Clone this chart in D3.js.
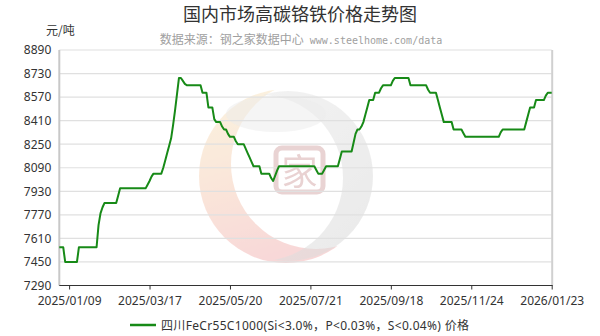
<!DOCTYPE html>
<html><head><meta charset="utf-8">
<script src="https://cdn.jsdelivr.net/npm/d3@7"></script>
<style>body{margin:0;background:#fff}svg{display:block}</style>
</head><body>
<svg id="chart" width="600" height="336"></svg>
<script>
// ---------- data ----------
const chartTitle = "国内市场高碳铬铁价格走势图";
const sourceCn = "数据来源：钢之家数据中心";
const sourceEn = " www.steelhome.com/data";
const unitLabel = "元/吨";
const seriesName = "四川FeCr55C1000(Si<3.0%，P<0.03%，S<0.04%) 价格";
const yTicks = [7290, 7450, 7610, 7770, 7930, 8090, 8250, 8410, 8570, 8730, 8890];
const xTickLabels = ["2025/01/09", "2025/03/17", "2025/05/20", "2025/07/21", "2025/09/18", "2025/11/24", "2026/01/23"];
const xTickIndex = [5, 46, 87, 128, 169, 210, 251];
const prices = [
  7550,7550,7550,7450,7450,7450,7450,7450,7450,7450,
  7550,7550,7550,7550,7550,7550,7550,7550,7550,7550,
  7700,7780,7820,7850,7850,7850,7850,7850,7850,7850,
  7900,7950,7950,7950,7950,7950,7950,7950,7950,7950,
  7950,7950,7950,7950,7950,7975,8000,8030,8050,8050,
  8050,8050,8050,8090,8140,8190,8240,8290,8380,8480,
  8590,8700,8700,8680,8660,8650,8650,8650,8650,8650,
  8650,8650,8650,8600,8600,8600,8500,8500,8500,8420,
  8400,8400,8400,8370,8350,8350,8320,8300,8300,8300,
  8270,8250,8250,8250,8250,8220,8190,8160,8130,8100,
  8100,8100,8100,8050,8050,8050,8050,8050,8020,8000,
  8035,8070,8100,8100,8100,8100,8100,8100,8100,8100,
  8100,8100,8100,8100,8100,8100,8100,8100,8100,8100,
  8100,8075,8050,8050,8050,8075,8100,8100,8100,8100,
  8100,8100,8100,8150,8200,8200,8200,8200,8200,8200,
  8260,8320,8350,8350,8370,8400,8450,8500,8550,8550,
  8550,8600,8600,8600,8630,8650,8650,8650,8650,8650,
  8680,8700,8700,8700,8700,8700,8700,8700,8700,8650,
  8650,8650,8650,8650,8650,8650,8650,8650,8620,8600,
  8600,8600,8600,8550,8500,8450,8400,8400,8400,8400,
  8400,8350,8350,8350,8350,8350,8325,8300,8300,8300,
  8300,8300,8300,8300,8300,8300,8300,8300,8300,8300,
  8300,8300,8300,8300,8300,8330,8350,8350,8350,8350,
  8350,8350,8350,8350,8350,8350,8350,8350,8400,8450,
  8500,8500,8500,8550,8550,8550,8550,8550,8580,8600,
  8600,8600
];

// ---------- layout ----------
const plot = {left: 59.3, right: 551.7, top: 50, bottom: 285.5};
const lineColor = "#178a17";
const svg = d3.select("#chart");

const x = d3.scaleLinear().domain([0, prices.length - 1]).range([plot.left, plot.right]);
const y = d3.scaleLinear().domain([yTicks[0], yTicks[yTicks.length - 1]]).range([plot.bottom, plot.top]);

// ---------- watermark ----------
const defs = svg.append("defs");
const gWarm = defs.append("linearGradient").attr("id", "warm").attr("x1", 0).attr("y1", 0).attr("x2", 0.3).attr("y2", 1);
gWarm.append("stop").attr("offset", "0%").attr("stop-color", "#f7e2b0");
gWarm.append("stop").attr("offset", "50%").attr("stop-color", "#f4c4a4");
gWarm.append("stop").attr("offset", "100%").attr("stop-color", "#ef9f9f");
const gGray = defs.append("linearGradient").attr("id", "gray").attr("x1", 0).attr("y1", 0).attr("x2", 1).attr("y2", 1);
gGray.append("stop").attr("offset", "0%").attr("stop-color", "#ececec");
gGray.append("stop").attr("offset", "100%").attr("stop-color", "#d9d9d9");

const cx = 286, cy = 176, R = 87;
const mWarm = defs.append("mask").attr("id", "mWarm");
mWarm.append("circle").attr("cx", cx).attr("cy", cy).attr("r", R).attr("fill", "#fff");
mWarm.append("circle").attr("cx", cx + 30).attr("cy", cy - 12).attr("r", R - 2).attr("fill", "#000");
const mGray = defs.append("mask").attr("id", "mGray");
mGray.append("circle").attr("cx", cx + 2).attr("cy", cy).attr("r", R - 2).attr("fill", "#fff");
mGray.append("circle").attr("cx", cx - 26).attr("cy", cy + 2).attr("r", R - 4).attr("fill", "#000");

const wm = svg.append("g");
wm.append("rect").attr("x", cx - R).attr("y", cy - R).attr("width", 2 * R).attr("height", 2 * R)
  .attr("fill", "url(#warm)").attr("mask", "url(#mWarm)").attr("opacity", 0.4);
wm.append("rect").attr("x", cx - R).attr("y", cy - R).attr("width", 2 * R).attr("height", 2 * R)
  .attr("fill", "url(#gray)").attr("mask", "url(#mGray)").attr("opacity", 0.55);
wm.append("ellipse").attr("cx", cx - 10).attr("cy", cy - 62).attr("rx", 50).attr("ry", 18)
  .attr("fill", "#ececec").attr("opacity", 0.5);
// seal
wm.append("rect").attr("x", 276).attr("y", 148).attr("width", 47).attr("height", 44).attr("rx", 6)
  .attr("fill", "none").attr("stroke", "#c99090").attr("stroke-width", 5).attr("opacity", 0.4);
wm.append("text").attr("x", 299.5).attr("y", 185).attr("text-anchor", "middle")
  .attr("font-family", "Noto Sans CJK SC").attr("font-size", 36).attr("fill", "#c99090").attr("opacity", 0.4)
  .text("家");

// ---------- grid ----------
svg.append("g").selectAll("line").data(yTicks).join("line")
  .attr("x1", plot.left).attr("x2", plot.right)
  .attr("y1", d => y(d)).attr("y2", d => y(d))
  .attr("stroke", "#e0e0e0").attr("stroke-width", 1.2);

// side borders
svg.append("line").attr("x1", plot.left).attr("x2", plot.left).attr("y1", plot.top).attr("y2", plot.bottom)
  .attr("stroke", "#c8c8c8").attr("stroke-width", 2);
svg.append("line").attr("x1", plot.right + 0.5).attr("x2", plot.right + 0.5).attr("y1", plot.top).attr("y2", plot.bottom)
  .attr("stroke", "#d0d0d0").attr("stroke-width", 2);

// ---------- axes ----------
const yAxis = d3.axisLeft(y).tickValues(yTicks).tickSize(0).tickPadding(8).tickFormat(d3.format("d"));
const gy = svg.append("g").attr("transform", `translate(${plot.left},0)`).call(yAxis);
gy.select(".domain").remove();
gy.selectAll("text").attr("font-family", "Noto Sans, sans-serif").attr("font-size", 12).attr("fill", "#333");

const xAxis = d3.axisBottom(x).tickValues(xTickIndex).tickSize(4).tickPadding(7)
  .tickFormat((d, i) => xTickLabels[i]);
const gx = svg.append("g").attr("transform", `translate(0,${plot.bottom})`).call(xAxis);
gx.select(".domain").attr("stroke", "#333").attr("stroke-width", 1.2).attr("d", `M${plot.left},0H${plot.right + 1}`);
gx.selectAll(".tick line").attr("stroke", "#333");
gx.selectAll("text").attr("font-family", "Noto Sans, sans-serif").attr("font-size", 12).attr("fill", "#333");

// ---------- series ----------
const line = d3.line().x((d, i) => x(i)).y(d => y(d));
svg.append("path").datum(prices).attr("d", line)
  .attr("fill", "none").attr("stroke", lineColor).attr("stroke-width", 2).attr("stroke-linejoin", "round");

// ---------- titles ----------
svg.append("text").attr("x", 300).attr("y", 21).attr("text-anchor", "middle")
  .attr("font-family", "Noto Sans CJK SC").attr("font-size", 18).attr("fill", "#333").text(chartTitle);
svg.append("text").attr("x", 46).attr("y", 35)
  .attr("font-family", "Noto Sans CJK SC").attr("font-size", 12).attr("fill", "#333").text(unitLabel);
const sub = svg.append("text").attr("x", 301).attr("y", 44).attr("text-anchor", "middle").attr("fill", "#a0a0a0");
sub.append("tspan").attr("font-family", "Noto Sans CJK SC").attr("font-size", 12).text(sourceCn);
sub.append("tspan").attr("font-family", "DejaVu Sans Mono").attr("font-size", 10).text(sourceEn);

// ---------- legend ----------
const lg = svg.append("g");
lg.append("line").attr("x1", 130).attr("x2", 156).attr("y1", 325).attr("y2", 325)
  .attr("stroke", lineColor).attr("stroke-width", 2.5);
lg.append("text").attr("x", 161).attr("y", 329.5)
  .attr("font-family", "Noto Sans, Noto Sans CJK SC, sans-serif").attr("font-size", 12).attr("fill", "#333")
  .attr("textLength", 308).attr("lengthAdjust", "spacing")
  .text(seriesName);
</script>
</body></html>
